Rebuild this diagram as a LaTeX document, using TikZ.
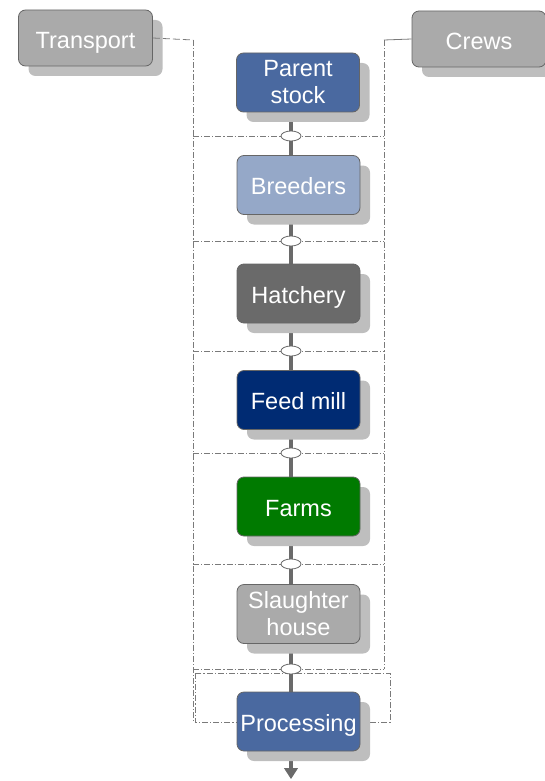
\documentclass[tikz,border=0pt]{standalone}
\usepackage{fontspec}
\setmainfont{Liberation Sans}
\usetikzlibrary{shapes.geometric,shadows,arrows.meta}
\definecolor{cParent}{HTML}{4A69A0}
\definecolor{cBreed}{HTML}{95A8C8}
\definecolor{cHatch}{HTML}{6A6A6A}
\definecolor{cFeed}{HTML}{002B73}
\definecolor{cFarm}{HTML}{007A00}
\definecolor{cLight}{HTML}{AAAAAA}
\definecolor{cShadow}{HTML}{BEBEBE}
\definecolor{cBorder}{HTML}{666666}
\definecolor{cSpine}{HTML}{6A6A6A}
\definecolor{cDash}{HTML}{7A7A7A}
\begin{document}
\begin{tikzpicture}[x=1pt,y=-1pt,
  box/.style={draw=cBorder, line width=0.8pt, rounded corners=7pt, text=white,
    minimum width=123pt, minimum height=59pt, inner sep=0pt, align=center,
    font=\fontsize{23.5}{27}\selectfont,
    drop shadow={shadow xshift=10pt, shadow yshift=-10pt, fill=cShadow, opacity=1, draw=none}},
  one/.style={text height=21pt, text depth=2pt},
  side/.style={box, one, fill=cLight, minimum width=134pt, minimum height=56pt, text height=22pt, text depth=1pt},
  joint/.style={ellipse, draw=cBorder, fill=white, line width=0.8pt, minimum width=20pt, minimum height=10pt, inner sep=0pt},
  dd/.style={draw=cDash, line width=0.8pt, dash pattern=on 6pt off 2pt on 1.2pt off 2pt},
  spine/.style={draw=cSpine, line width=4pt}
]
\useasboundingbox (0,0) rectangle (545,781);

% joints positions
\coordinate (j1) at (291,136);
\coordinate (j2) at (291,241);
\coordinate (j3) at (291,351);
\coordinate (j4) at (291,453);
\coordinate (j5) at (291,564);
\coordinate (j6) at (291,669);
\coordinate (top) at (291,113);
\coordinate (end) at (291,779);
\coordinate (tl) at (193,40);
\coordinate (tb) at (193,722);
\coordinate (cr) at (384,40);
\coordinate (cb) at (384,669);
\coordinate (bl) at (195,673);
\coordinate (br) at (390,722);

% side boxes
\node[side] (transport) at (85.5,38) {Transport};
\node[side] (crews) at (479,39) {Crews};

% connectors from side boxes
\draw[draw=cDash, line width=0.8pt, dash pattern=on 7pt off 3pt] (transport.east) -- (tl);
\draw[dd] (tl) -- (tb);
\draw[draw=cDash, line width=0.8pt] (crews.west) -- (cr);
\draw[dd] (cr) -- (cb);

% horizontal separators
\foreach \j in {j1,j2,j3,j4,j5,j6}{
  \draw[dd] (\j -| tl) -- (\j -| cr);
}
\draw[dd] (bl) rectangle (br);

% spine
\draw[spine] (top) -- (end |- 0,768);
\draw[cSpine, -{Triangle[width=14pt,length=11pt]}, line width=1pt] (end |- 0,766) -- (end);

% main boxes
\node[box, fill=cParent] (parent) at (298,82.5) {Parent\\stock};
\node[box, one, fill=cBreed] (breeders) at (298.5,185) {Breeders};
\node[box, one, fill=cHatch] (hatchery) at (298.5,293.5) {Hatchery};
\node[box, one, fill=cFeed] (feed) at (298.5,400) {Feed mill};
\node[box, one, fill=cFarm] (farms) at (298.5,506.5) {Farms};
\node[box, fill=cLight] (slaughter) at (298.5,614) {Slaughter\\house};
\node[box, one, fill=cParent] (processing) at (298.5,721.5) {Processing};

% joints
\foreach \j in {j1,j2,j3,j4,j5,j6}{
  \node[joint] (n\j) at (\j) {};
}
\end{tikzpicture}
\end{document}
